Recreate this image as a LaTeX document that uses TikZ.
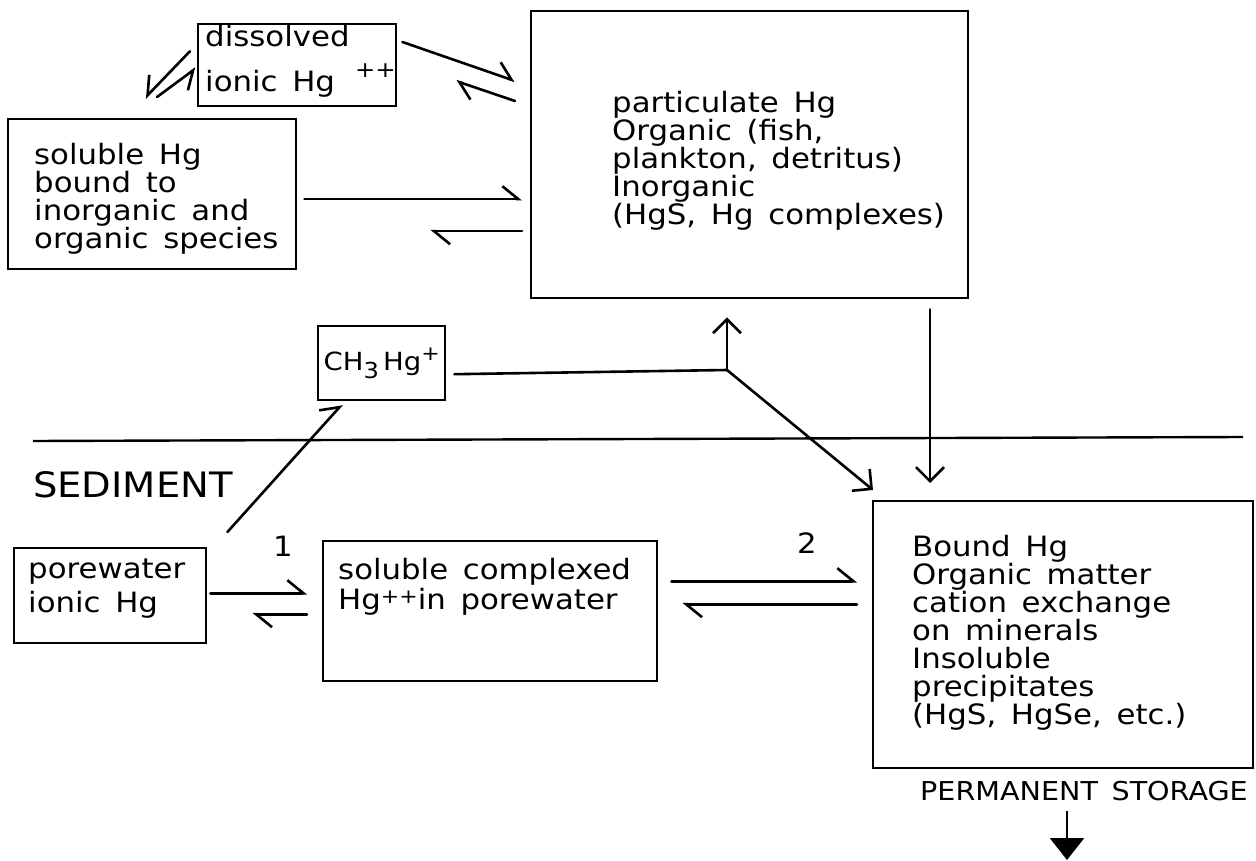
\documentclass[tikz,border=0pt]{standalone}
\usepackage{fontspec}
\setmainfont{DejaVu Sans}[WordSpace=1.5,FakeStretch=1.1]
\usetikzlibrary{arrows.meta,positioning,calc}
\lineskiplimit=-50pt

\tikzset{
  pool/.style={draw,line width=2.4pt,inner sep=0pt,anchor=north west},
  poolText/.style={inner sep=0pt,align=left,font=\fontsize{28}{28}\selectfont},
  tag/.style={inner sep=0pt,font=\fontsize{28}{28}\selectfont},
  flux/.style={line width=2.6pt,line cap=round,
    -{Straight Barb[length=14pt,width=28pt]}},
  half/.style={line width=2.6pt,line cap=round,
    -{Straight Barb[harpoon,length=16pt,width=26pt]}},
  halfSwap/.style={line width=2.6pt,line cap=round,
    -{Straight Barb[harpoon,swap,length=16pt,width=26pt]}}
}

\begin{document}
\begin{tikzpicture}[x=1pt,y=-1pt]
  \useasboundingbox (0,0) rectangle (1256,861);

  % water column
  \node[pool,minimum width=198pt,minimum height=82pt] (diss) at (197,23) {};
  \node[poolText,right=8pt of diss.west,yshift=4pt] (dissText)
    {dissolved\\[17pt]ionic Hg\hspace{20pt}\raisebox{14pt}{\fontsize{22}{22}\selectfont ++}};
  \node[pool,minimum width=288pt,minimum height=150pt] (sol) at (7,118) {};
  \node[poolText,right=27pt of sol.west,yshift=-5pt] (solText)
    {soluble Hg\\bound to\\inorganic and\\organic species};
  \node[pool,minimum width=437pt,minimum height=287pt] (part) at (530,10) {};
  \node[poolText,right=82pt of part.west,yshift=-6.5pt] (partText)
    {particulate Hg\\Organic (fish,\\plankton, detritus)\\Inorganic\\(HgS, Hg complexes)};
  \node[pool,minimum width=127pt,minimum height=74pt,
    font=\fontsize{25}{25}\selectfont] (ch3) at (317,325)
    {CH\raisebox{-8pt}{\fontsize{22}{22}\selectfont 3}\,Hg\raisebox{10pt}{\fontsize{20}{20}\selectfont +}};
  \coordinate (jn) at (727,370);

  % sediment
  \draw[line width=2.4pt] (33,441) -- (1243,437);
  \node[inner sep=0pt,anchor=west,font=\fontsize{35}{35}\selectfont] (sediment) at (33,485) {SEDIMENT};
  \node[pool,minimum width=192pt,minimum height=95pt] (pore) at (13,547) {};
  \node[poolText,right=15pt of pore.west,yshift=7pt] (poreText) {porewater\\[6pt]ionic Hg};
  \node[pool,minimum width=334pt,minimum height=140pt] (cplx) at (322,540) {};
  \node[poolText,below right=18pt and 16pt of cplx.north west,
    font=\fontsize{28}{30}\selectfont] (cplxText)
    {soluble complexed\\Hg\raisebox{6pt}{\fontsize{20}{20}\selectfont ++}in porewater};
  \node[pool,minimum width=380pt,minimum height=267pt] (bound) at (872,500) {};
  \node[poolText,right=40pt of bound.west,yshift=1.5pt] (boundText)
    {Bound Hg\\Organic matter\\cation exchange\\on minerals\\Insoluble\\precipitates\\(HgS, HgSe, etc.)};
  \node[tag,below right=12pt and 48pt of bound.south west,
    font=\fontsize{26}{26}\selectfont] (storage) {PERMANENT STORAGE};
  \coordinate (sink) at (1067,860);
  \node[tag] (one) at (283,546) {1};
  \node[tag] (two) at (807,543) {2};

  % exchanges
  \draw[half] ($(diss.north east)+(5,19)$) -- ($(part.north west)+(-15,71)$);
  \draw[half] ($(part.north west)+(-15,91)$) -- ($(part.north west)+(-74,71)$);
  \draw[halfSwap] ($(diss.west)+(-7,-14)$) -- ($(sol.north west)+(138,-20)$);
  \draw[halfSwap] ($(sol.north west)+(150,-21)$) -- ($(diss.west)+(-1,3)$);
  \draw[half] ($(sol.east)+(7,5)$) -- ($(part.west)+(-8,44.5)$);
  \draw[half] ($(part.west)+(-8,76.5)$) -- ($(sol.east)+(133,37)$);
  \draw[half] ($(pore.north east)+(20,-15)$) -- ($(ch3.south west)+(25,3)$);
  \draw[line width=2.6pt,line cap=round] ($(ch3.east)+(8,11)$) -- (jn);
  \draw[flux] (jn) -- ($(part.south west)+(197,18)$);
  \draw[flux] (jn) -- ($(bound.north west)+(1,-10)$);
  \draw[flux] ($(bound.north west |- part.south)+(58,10)$) -- ($(bound.north west)+(58,-17)$);
  \draw[half] ($(pore.east)+(3,-2.5)$) -- ($(cplx.west)+(-15,-18)$);
  \draw[half] ($(cplx.west)+(-15,3)$) -- ($(pore.east)+(45,18.5)$);
  \draw[half] ($(cplx.east)+(13,-30)$) -- ($(bound.west)+(-15,-53.5)$);
  \draw[half] ($(bound.west)+(-15,-30.5)$) -- ($(cplx.east)+(24,-7)$);
  \draw[line width=2.6pt,-{Triangle[length=22pt,width=34pt]}] (storage.south -| sink) ++(0,10) -- (sink);
\end{tikzpicture}
\end{document}
